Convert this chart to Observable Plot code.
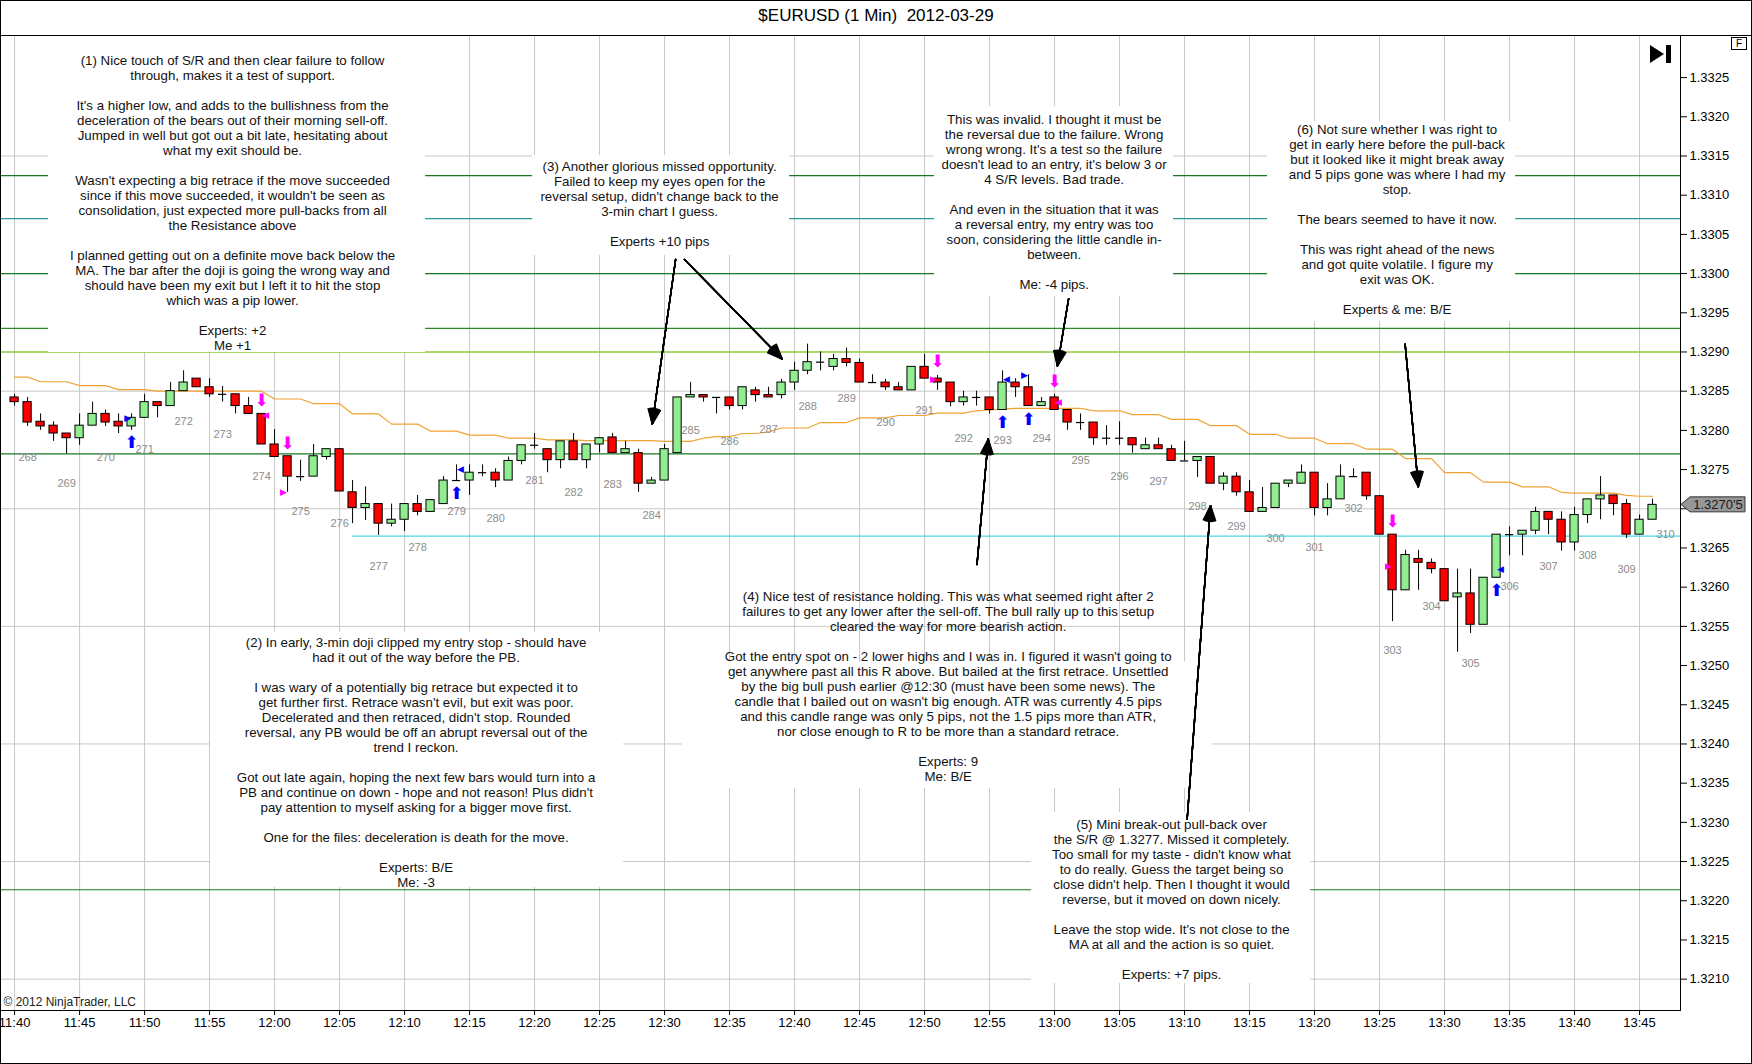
<!DOCTYPE html>
<html><head><meta charset="utf-8">
<script src="https://cdn.jsdelivr.net/npm/d3@7"></script>
<script src="https://cdn.jsdelivr.net/npm/@observablehq/plot@0.6"></script>
<style>
html,body{margin:0;padding:0;background:#fff;}
#wrap{position:relative;width:1752px;height:1064px;overflow:hidden;font-family:"Liberation Sans",Arial,sans-serif;background:#fff;}
#title{height:30px;line-height:32px;text-align:center;font-size:17px;white-space:pre;color:#000;}
#border{position:absolute;left:0;top:0;width:1752px;height:1064px;box-sizing:border-box;border:1px solid #000;pointer-events:none;}
#fbox{position:absolute;left:1731px;top:37px;width:14px;height:11px;border:1px solid #000;font-size:10px;line-height:11px;text-align:center;background:#fff;}
#endbtn{position:absolute;left:1650px;top:45px;width:22px;height:18px;}
#endbtn .tri{position:absolute;left:0;top:0;width:0;height:0;border-top:9px solid transparent;border-bottom:9px solid transparent;border-left:14px solid #000;}
#endbtn .bar{position:absolute;left:16px;top:0;width:5px;height:18px;background:#000;}
</style></head>
<body>
<div id="wrap">
<div id="title">$EURUSD (1 Min)  2012-03-29</div>
<div id="chart"></div>
<div id="fbox">F</div>
<div id="endbtn"><div class="tri"></div><div class="bar"></div></div>
<div id="border"></div>
</div>
<script>
// ---------- DATA ----------
const sessionDate = "2012-03-29";
const firstBar = "11:40";
const opens = [1.32842,1.32836,1.32811,1.32806,1.32796,1.32790,1.32806,1.32821,1.32811,1.32805,
1.32816,1.32836,1.32831,1.32850,1.32866,1.32855,1.32846,1.32846,1.32831,1.32821,
1.32782,1.32767,1.32741,1.32741,1.32766,1.32776,1.32721,1.32701,1.32706,1.32681,
1.32686,1.32706,1.32696,1.32706,1.32736,1.32736,1.32746,1.32746,1.32736,1.32761,
1.32781,1.32776,1.32762,1.32786,1.32762,1.32782,1.32791,1.32771,1.32771,1.32732,
1.32736,1.32771,1.32842,1.32845,1.32842,1.32842,1.32831,1.32851,1.32845,1.32845,
1.32861,1.32876,1.32887,1.32881,1.32891,1.32886,1.32861,1.32861,1.32855,1.32851,
1.32881,1.32866,1.32861,1.32836,1.32842,1.32842,1.32826,1.32861,1.32855,1.32831,
1.32842,1.32826,1.32810,1.32810,1.32790,1.32790,1.32790,1.32776,1.32781,1.32776,
1.32761,1.32761,1.32766,1.32732,1.32741,1.32721,1.32696,1.32701,1.32732,1.32732,
1.32746,1.32701,1.32712,1.32741,1.32746,1.32716,1.32667,1.32596,1.32636,1.32631,
1.32623,1.32587,1.32592,1.32552,1.32612,1.32667,1.32667,1.32672,1.32696,1.32686,
1.32657,1.32692,1.32712,1.32717,1.32706,1.32667,1.32686];
const highs = [1.32846,1.32842,1.32821,1.32811,1.32796,1.32821,1.32836,1.32826,1.32821,1.32821,
1.32846,1.32836,1.32861,1.32876,1.32866,1.32866,1.32856,1.32846,1.32842,1.32821,
1.32801,1.32767,1.32762,1.32782,1.32776,1.32776,1.32736,1.32728,1.32706,1.32706,
1.32706,1.32717,1.32711,1.32741,1.32756,1.32756,1.32756,1.32751,1.32766,1.32781,
1.32796,1.32776,1.32786,1.32796,1.32782,1.32791,1.32796,1.32786,1.32776,1.32740,
1.32782,1.32842,1.32861,1.32845,1.32842,1.32842,1.32855,1.32855,1.32855,1.32865,
1.32887,1.32910,1.32900,1.32897,1.32905,1.32891,1.32871,1.32865,1.32861,1.32881,
1.32897,1.32870,1.32861,1.32850,1.32850,1.32842,1.32876,1.32866,1.32871,1.32842,
1.32846,1.32826,1.32821,1.32810,1.32806,1.32811,1.32790,1.32790,1.32790,1.32781,
1.32786,1.32766,1.32766,1.32746,1.32746,1.32736,1.32727,1.32732,1.32736,1.32756,
1.32746,1.32732,1.32756,1.32751,1.32746,1.32716,1.32667,1.32647,1.32647,1.32636,
1.32623,1.32623,1.32623,1.32612,1.32667,1.32677,1.32672,1.32702,1.32696,1.32696,
1.32702,1.32712,1.32741,1.32717,1.32712,1.32692,1.32712];
const lows = [1.32831,1.32805,1.32800,1.32786,1.32770,1.32781,1.32806,1.32805,1.32796,1.32800,
1.32816,1.32816,1.32831,1.32850,1.32855,1.32842,1.32836,1.32821,1.32821,1.32782,
1.32766,1.32721,1.32735,1.32741,1.32762,1.32722,1.32681,1.32685,1.32666,1.32677,
1.32671,1.32691,1.32696,1.32706,1.32736,1.32717,1.32741,1.32727,1.32736,1.32756,
1.32776,1.32746,1.32751,1.32762,1.32751,1.32771,1.32771,1.32771,1.32721,1.32732,
1.32736,1.32771,1.32842,1.32836,1.32821,1.32826,1.32826,1.32836,1.32842,1.32840,
1.32851,1.32871,1.32876,1.32876,1.32881,1.32861,1.32861,1.32851,1.32851,1.32851,
1.32866,1.32851,1.32830,1.32831,1.32831,1.32821,1.32826,1.32842,1.32831,1.32831,
1.32826,1.32800,1.32800,1.32781,1.32781,1.32781,1.32771,1.32776,1.32776,1.32761,
1.32761,1.32740,1.32732,1.32723,1.32716,1.32696,1.32696,1.32701,1.32727,1.32732,
1.32691,1.32691,1.32712,1.32741,1.32711,1.32667,1.32556,1.32596,1.32596,1.32617,
1.32582,1.32517,1.32541,1.32552,1.32612,1.32640,1.32640,1.32667,1.32667,1.32646,
1.32646,1.32681,1.32686,1.32691,1.32662,1.32667,1.32686];
const closes = [1.32836,1.32810,1.32805,1.32796,1.32790,1.32806,1.32821,1.32810,1.32805,1.32816,
1.32836,1.32831,1.32850,1.32861,1.32855,1.32846,1.32846,1.32831,1.32821,1.32782,
1.32766,1.32741,1.32741,1.32767,1.32776,1.32722,1.32701,1.32706,1.32681,1.32686,
1.32706,1.32696,1.32711,1.32736,1.32736,1.32746,1.32746,1.32736,1.32761,1.32781,
1.32781,1.32762,1.32786,1.32762,1.32782,1.32790,1.32771,1.32776,1.32732,1.32736,
1.32776,1.32842,1.32845,1.32842,1.32842,1.32831,1.32855,1.32845,1.32842,1.32861,
1.32876,1.32887,1.32887,1.32891,1.32886,1.32861,1.32861,1.32855,1.32851,1.32881,
1.32866,1.32861,1.32836,1.32842,1.32842,1.32826,1.32861,1.32855,1.32831,1.32836,
1.32826,1.32810,1.32810,1.32790,1.32790,1.32790,1.32781,1.32781,1.32776,1.32761,
1.32761,1.32766,1.32732,1.32741,1.32721,1.32696,1.32701,1.32732,1.32736,1.32746,
1.32701,1.32712,1.32741,1.32741,1.32716,1.32667,1.32596,1.32641,1.32631,1.32623,
1.32582,1.32592,1.32552,1.32612,1.32667,1.32667,1.32672,1.32696,1.32686,1.32657,
1.32692,1.32712,1.32717,1.32706,1.32667,1.32686,1.32705];
const maValues = [1.32868,1.32868,1.32862,1.32862,1.32862,1.32857,1.32857,1.32857,1.32852,1.32852,
1.32852,1.32850,1.32850,1.32850,1.32850,1.32850,1.32850,1.32850,1.32850,1.32850,
1.32840,1.32840,1.32840,1.32834,1.32834,1.32834,1.32821,1.32821,1.32821,1.32808,
1.32808,1.32808,1.32799,1.32799,1.32799,1.32794,1.32794,1.32794,1.32790,1.32790,
1.32790,1.32788,1.32788,1.32788,1.32787,1.32787,1.32787,1.32787,1.32787,1.32787,
1.32786,1.32786,1.32786,1.32790,1.32792,1.32792,1.32796,1.32796,1.32798,1.32803,
1.32803,1.32803,1.32810,1.32810,1.32810,1.32816,1.32816,1.32816,1.32819,1.32819,
1.32819,1.32822,1.32822,1.32822,1.32825,1.32826,1.32827,1.32828,1.32828,1.32828,
1.32828,1.32828,1.32828,1.32825,1.32825,1.32825,1.32820,1.32820,1.32820,1.32814,
1.32814,1.32814,1.32806,1.32806,1.32806,1.32795,1.32795,1.32795,1.32790,1.32790,
1.32790,1.32783,1.32783,1.32783,1.32776,1.32776,1.32776,1.32764,1.32764,1.32764,
1.32746,1.32746,1.32746,1.32734,1.32734,1.32734,1.32728,1.32728,1.32728,1.32721,
1.32720,1.32720,1.32720,1.32720,1.32717,1.32716,1.32716];
const lastPriceLabel = "1.3270'5";

// support / resistance levels
const srLevels = [1.33125, 1.33070, 1.33000, 1.32930, 1.32900, 1.32770, 1.32214];
const cyanLevel = 1.32665, cyanFrom = "12:06";

// bar count labels
const barNums   = [268,269,270,271,272,273,274,275,276,277,278,279,280,281,282,283,284,285,286,287,288,289,290,291,292,293,294,295,296,297,298,299,300,301,302,303,304,305,306,307,308,309,310];
const barNumAt  = ["11:41","11:44","11:47","11:50","11:53","11:56","11:59","12:02","12:05","12:08","12:11","12:14","12:17","12:20","12:23","12:26","12:29","12:32","12:35","12:38","12:41","12:44","12:47","12:50","12:53","12:56","12:59","13:02","13:05","13:08","13:11","13:14","13:17","13:20","13:23","13:26","13:29","13:32","13:35","13:38","13:41","13:44","13:47"];
const barNumY   = [1.32766,1.32732,1.32766,1.32776,1.32811,1.32795,1.32741,1.32696,1.32681,1.32627,1.32651,1.32696,1.32687,1.32736,1.32721,1.32731,1.32692,1.32800,1.32786,1.32801,1.32831,1.32841,1.32810,1.32825,1.32790,1.32787,1.32790,1.32761,1.32741,1.32735,1.32703,1.32677,1.32662,1.32651,1.32701,1.32519,1.32576,1.32503,1.32601,1.32627,1.32641,1.32622,1.32667];

// entry / exit markers
const buyArrows  = [["11:49",1.32785],["12:14",1.32719],["12:56",1.32810],["12:58",1.32814],["13:34",1.32596]];
const sellArrows = [["11:59",1.32838],["12:01",1.32783],["12:51",1.32888],["13:00",1.32862],["13:26",1.32684]];
const buyFlagsL  = [["11:49",1.32816],["12:58",1.32871]];
const buyFlagsR  = [["12:14",1.32751],["12:56",1.32865],["13:34",1.32623]];
const sellFlagsL = [["12:01",1.32721],["12:51",1.32866],["13:26",1.32627]];
const sellFlagsR = [["11:59",1.32820],["13:00",1.32836]];

// annotation arrows [from, to]
const arrowFrom = [["12:30:51",1.33018],["12:31:32",1.33018],["13:01:05",1.32968],["12:54:02",1.32629],["13:10:12",1.32304],["13:26:58",1.32910]];
const arrowTo   = [["12:29:03",1.32808],["12:39:03",1.32891],["13:00:13",1.32882],["12:54:54",1.32789],["13:12:00",1.32704],["13:27:59",1.32728]];

// note boxes: background extents [t1,t2,pTop,pBottom]
const noteBoxes = [
 ["11:42:37","12:11:37",1.33304,1.328994],
 ["12:19:51","12:39:37",1.331506,1.330231],
 ["12:50:46","13:09:09",1.332131,1.329708],
 ["13:16:23","13:35:28",1.33194,1.329389],
 ["12:31:23","13:12:09",1.325047,1.323432],
 ["11:55:05","12:26:51",1.325422,1.32217],
 ["12:58:14","13:19:42",1.323126,1.320945]
];
// note text anchors [t, pTop]
const noteAnchors = [["11:56:46",1.332802],["12:29:37",1.331447],["12:59:58",1.332047],["13:26:21",1.331918],["12:51:49",1.325961],["12:10:53",1.325377],["13:09:00",1.323053]];
const noteLines = [
["(1) Nice touch of S/R and then clear failure to follow","through, makes it a test of support.","",
 "It's a higher low, and adds to the bullishness from the","deceleration of the bears out of their morning sell-off.","Jumped in well but got out a bit late, hesitating about","what my exit should be.","",
 "Wasn't expecting a big retrace if the move succeeded","since if this move succeeded, it wouldn't be seen as","consolidation, just expected more pull-backs from all","the Resistance above","",
 "I planned getting out on a definite move back below the","MA. The bar after the doji is going the wrong way and","should have been my exit but I left it to hit the stop","which was a pip lower.","",
 "Experts: +2","Me +1"],
["(3) Another glorious missed opportunity.","Failed to keep my eyes open for the","reversal setup, didn't change back to the","3-min chart I guess.","","Experts +10 pips"],
["This was invalid. I thought it must be","the reversal due to the failure. Wrong","wrong wrong. It's a test so the failure","doesn't lead to an entry, it's below 3 or","4 S/R levels. Bad trade.","",
 "And even in the situation that it was","a reversal entry, my entry was too","soon, considering the little candle in-","between.","","Me: -4 pips."],
["(6) Not sure whether I was right to","get in early here before the pull-back","but it looked like it might break away","and 5 pips gone was where I had my","stop.","",
 "The bears seemed to have it now.","","This was right ahead of the news","and got quite volatile. I figure my","exit was OK.","","Experts & me: B/E"],
["(4) Nice test of resistance holding. This was what seemed right after 2","failures to get any lower after the sell-off. The bull rally up to this setup","cleared the way for more bearish action.","",
 "Got the entry spot on - 2 lower highs and I was in. I figured it wasn't going to","get anywhere past all this R above. But bailed at the first retrace. Unsettled","by the big bull push earlier @12:30 (must have been some news). The","candle that I bailed out on wasn't big enough. ATR was currently 4.5 pips","and this candle range was only 5 pips, not the 1.5 pips more than ATR,","nor close enough to R to be more than a standard retrace.","",
 "Experts: 9","Me: B/E"],
["(2) In early, 3-min doji clipped my entry stop - should have","had it out of the way before the PB.","",
 "I was wary of a potentially big retrace but expected it to","get further first. Retrace wasn't evil, but exit was poor.","Decelerated and then retraced, didn't stop. Rounded","reversal, any PB would be off an abrupt reversal out of the","trend I reckon.","",
 "Got out late again, hoping the next few bars would turn into a","PB and continue on down - hope and not reason! Plus didn't","pay attention to myself asking for a bigger move first.","",
 "One for the files: deceleration is death for the move.","","Experts: B/E","Me: -3"],
["(5) Mini break-out pull-back over","the S/R @ 1.3277. Missed it completely.","Too small for my taste - didn't know what","to do really. Guess the target being so","close didn't help. Then I thought it would","reverse, but it moved on down nicely.","",
 "Leave the stop wide. It's not close to the","MA at all and the action is so quiet.","","Experts: +7 pips."]
];
const yTicks = [1.3210,1.3215,1.3220,1.3225,1.3230,1.3235,1.3240,1.3245,1.3250,1.3255,1.3260,1.3265,1.3270,1.3275,1.3280,1.3285,1.3290,1.3295,1.3300,1.3305,1.3310,1.3315,1.3320,1.3325];
const yGrid = [1.3210,1.3225,1.3240,1.3255,1.3270,1.3285,1.3300,1.3315];

// ---------- BUILD ----------
const T = s => new Date(`${sessionDate}T${s.length === 5 ? s + ":00" : s}Z`);
const t0 = T(firstBar);
const bars = opens.map((o, i) => ({t: new Date(+t0 + i * 60000), o, h: highs[i], l: lows[i], c: closes[i], ma: maValues[i]}));
const half = 19000;
const xDomain = [T("11:38:55"), T("13:48:09")];
const xTicks = d3.utcMinute.every(5).range(T("11:40"), T("13:46"));
const pts = a => a.map(([t, p]) => ({t: T(t), p}));
const labels = barNums.map((n, i) => ({t: T(barNumAt[i]), p: barNumY[i], n: String(n)}));
const arrows = arrowFrom.map((f, i) => ({x1: T(f[0]), y1: f[1], x2: T(arrowTo[i][0]), y2: arrowTo[i][1]}));
const boxes = noteBoxes.map(b => ({x1: T(b[0]), x2: T(b[1]), y1: b[2], y2: b[3]}));
const notes = noteAnchors.map((a, i) => ({t: T(a[0]), p: a[1], text: noteLines[i].map(s => s === "" ? "\u00a0" : s).join("\n")}));
const lastClose = closes[closes.length - 1];
const fmt4 = d3.format(".4f");

const dkGreen = "#177a22";
const srColors = [dkGreen, "#2e9696", dkGreen, "#2a8a2a", "#93c83a", dkGreen, dkGreen];
const font = "Liberation Sans, Arial, sans-serif";
const glyphFont = "DejaVu Sans, sans-serif";

const marks = [
  Plot.gridX(xTicks, {x: d => d, stroke: "#c8c8c8", strokeOpacity: 1}),
  Plot.gridY(yGrid, {y: d => d, stroke: "#c8c8c8", strokeOpacity: 1}),
  ...srLevels.map((p, i) => Plot.ruleY([p], {stroke: srColors[i], strokeWidth: i === 4 ? 1.6 : 1.2})),
  Plot.ruleY([cyanLevel], {x1: T(cyanFrom), x2: xDomain[1], stroke: "#4cd6e6", strokeWidth: 1.3}),
  Plot.rect(boxes, {x1: "x1", x2: "x2", y1: "y1", y2: "y2", fill: "white"}),
  Plot.line(bars, {x: "t", y: "ma", stroke: "#f0a232", strokeWidth: 1.2}),
  Plot.ruleX(bars, {x: "t", y1: "l", y2: "h", stroke: "black", strokeWidth: 1}),
  Plot.rect(bars.filter(d => d.c > d.o), {x1: d => new Date(+d.t - half), x2: d => new Date(+d.t + half), y1: "o", y2: "c", fill: "#90ee90", stroke: "black", strokeWidth: 1}),
  Plot.rect(bars.filter(d => d.c < d.o), {x1: d => new Date(+d.t - half), x2: d => new Date(+d.t + half), y1: "o", y2: "c", fill: "#ff0000", stroke: "black", strokeWidth: 1}),
  Plot.ruleY(bars.filter(d => d.c === d.o), {y: "c", x1: d => new Date(+d.t - half), x2: d => new Date(+d.t + half), stroke: "black", strokeWidth: 1.2}),
  Plot.text(labels, {x: "t", y: "p", text: "n", fill: "#8c8c8c", fontSize: 11, fontFamily: font}),
  Plot.text(pts(buyArrows), {x: "t", y: "p", text: () => "\u2B06", fill: "#0000ff", fontSize: 17, fontFamily: glyphFont}),
  Plot.text(pts(sellArrows), {x: "t", y: "p", text: () => "\u2B07", fill: "#ff00ff", fontSize: 17, fontFamily: glyphFont}),
  Plot.text(pts(buyFlagsL), {x: "t", y: "p", text: () => "\u25B6", fill: "#0000ff", fontSize: 9, dx: -4, fontFamily: glyphFont}),
  Plot.text(pts(buyFlagsR), {x: "t", y: "p", text: () => "\u25C0", fill: "#0000ff", fontSize: 9, dx: 4, fontFamily: glyphFont}),
  Plot.text(pts(sellFlagsL), {x: "t", y: "p", text: () => "\u25B6", fill: "#ff00ff", fontSize: 9, dx: -4, fontFamily: glyphFont}),
  Plot.text(pts(sellFlagsR), {x: "t", y: "p", text: () => "\u25C0", fill: "#ff00ff", fontSize: 9, dx: 4, fontFamily: glyphFont}),
  ...[4, 10, 16, 22, 28, 34, 40, 46].map(a => Plot.arrow(arrows, {x1: "x1", y1: "y1", x2: "x2", y2: "y2", stroke: "black", strokeWidth: 1.4, headLength: 17, headAngle: a})),
  Plot.text(notes, {x: "t", y: "p", text: "text", lineAnchor: "top", textAnchor: "middle", lineHeight: 1.13, fontSize: 13.3, fill: "#111", fontFamily: font}),
  Plot.text(["\u00a9 2012 NinjaTrader, LLC"], {text: d => d, frameAnchor: "bottom-left", textAnchor: "start", lineAnchor: "bottom", dx: 3, dy: -5, fontSize: 12, fill: "#222", fontFamily: font}),
  Plot.frame({stroke: "black"}),
  Plot.axisX({ticks: xTicks, tickFormat: d3.utcFormat("%H:%M"), tickSize: 5, tickPadding: 2, fontSize: 13, label: null}),
  // the tick label under the last-price marker is hidden, as in the original
  Plot.axisY({anchor: "right", ticks: yTicks, tickFormat: d => Math.abs(d - lastClose) < 0.0002 ? "" : fmt4(d), tickSize: 6, tickPadding: 3, fontSize: 13, label: null})
];

const plot = Plot.plot({
  width: 1752, height: 1034,
  marginTop: 5, marginBottom: 54, marginLeft: 0, marginRight: 72,
  style: {fontFamily: font, fontSize: "13px", background: "white", color: "black", overflow: "visible"},
  x: {type: "utc", domain: xDomain},
  y: {domain: [1.3206, 1.333037]},
  marks
});
document.getElementById("chart").appendChild(plot);

// full-width top rule and last-price marker
const svg = d3.select(plot);
svg.append("line").attr("x1", 0).attr("x2", 1752).attr("y1", 5.5).attr("y2", 5.5).attr("stroke", "black");
const yLast = plot.scale("y").apply(lastClose);
const xr = 1752 - 72;
svg.append("path")
  .attr("d", `M${xr + 1},${yLast} L${xr + 10},${yLast - 7.5} H${xr + 65} V${yLast + 7.5} H${xr + 10} Z`)
  .attr("fill", "#979797").attr("stroke", "#333");
svg.append("text").attr("x", xr + 38).attr("y", yLast).attr("dy", "0.35em")
  .attr("text-anchor", "middle").attr("font-size", 13).attr("font-family", font).attr("fill", "#1a1a1a")
  .text(lastPriceLabel);
</script>
</body></html>
